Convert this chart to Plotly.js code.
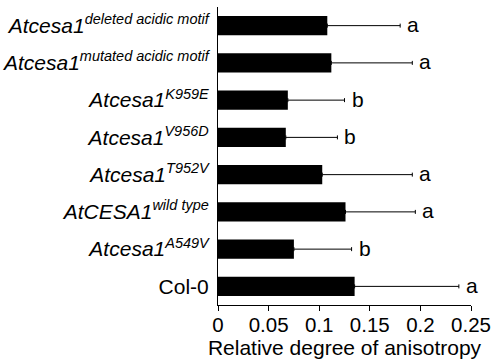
<!DOCTYPE html>
<html>
<head>
<meta charset="utf-8">
<script src="https://cdn.plot.ly/plotly-3.0.1.min.js"></script>
<style>html,body{margin:0;padding:0;background:#fff;}#chart{width:492px;height:360px;}</style>
</head>
<body>
<div id="chart"></div>
<script>
const categories = ["deleted", "mutated", "K959E", "V956D", "T952V", "wildtype", "A549V", "Col-0"];
const tickLabels = [
  "<i>Atcesa1<sup><span style=\"font-size:14.5px\">deleted acidic motif</span></sup></i>",
  "<i>Atcesa1<sup><span style=\"font-size:14.5px\">mutated acidic motif</span></sup></i>",
  "<i>Atcesa1<sup><span style=\"font-size:14.5px\">K959E</span></sup></i>",
  "<i>Atcesa1<sup><span style=\"font-size:14.5px\">V956D</span></sup></i>",
  "<i>Atcesa1<sup><span style=\"font-size:14.5px\">T952V</span></sup></i>",
  "<i>AtCESA1<sup><span style=\"font-size:14.5px\">wild type</span></sup></i>",
  "<i>Atcesa1<sup><span style=\"font-size:14.5px\">A549V</span></sup></i>",
  "Col-0"
];
const means = [0.108, 0.112, 0.069, 0.067, 0.103, 0.126, 0.075, 0.135];
const errors = [0.072, 0.080, 0.056, 0.051, 0.089, 0.069, 0.057, 0.103];
const letters = ["a", "a", "b", "b", "a", "a", "b", "a"];

const trace = {
  type: "bar",
  orientation: "h",
  x: means,
  y: categories,
  width: 0.52,
  marker: {color: "#000000", line: {width: 0}},
  error_x: {type: "data", symmetric: false, array: errors, arrayminus: errors.map(() => 0),
            color: "#000000", thickness: 1, width: 2},
  hoverinfo: "none"
};

const annotations = categories.map((c, i) => ({
  x: means[i] + errors[i], y: c, xref: "x", yref: "y",
  text: letters[i], showarrow: false, xanchor: "left", yanchor: "middle",
  xshift: 5, yshift: 1,
  font: {family: "Liberation Sans, Arial, sans-serif", size: 21, color: "#000"}
}));

const layout = {
  width: 492, height: 360,
  margin: {l: 218, r: 21, t: 7, b: 55},
  paper_bgcolor: "#fff", plot_bgcolor: "#fff",
  showlegend: false,
  font: {family: "Liberation Sans, Arial, sans-serif", size: 21, color: "#000"},
  xaxis: {
    range: [0, 0.25], tickvals: [0, 0.05, 0.1, 0.15, 0.2, 0.25],
    ticktext: ["0", "0.05", "0.1", "0.15", "0.2", "0.25"],
    ticks: "outside", ticklen: 5, tickwidth: 1, tickcolor: "#000",
    showline: true, linecolor: "#000", linewidth: 1, showgrid: false, zeroline: false,
    tickfont: {size: 20.5}, ticklabelstandoff: -4,
    title: {text: "Relative degree of anisotropy", font: {size: 21}, standoff: 0}
  },
  yaxis: {
    type: "category", categoryorder: "array", categoryarray: categories,
    range: [7.5, -0.5], tickvals: categories, ticktext: tickLabels,
    ticks: "", showline: true, linecolor: "#000", linewidth: 1, showgrid: false, zeroline: false,
    tickfont: {size: 21}, ticklabelstandoff: 4
  },
  annotations: annotations
};

Plotly.newPlot("chart", [trace], layout, {displayModeBar: false, staticPlot: true});
</script>
</body>
</html>
